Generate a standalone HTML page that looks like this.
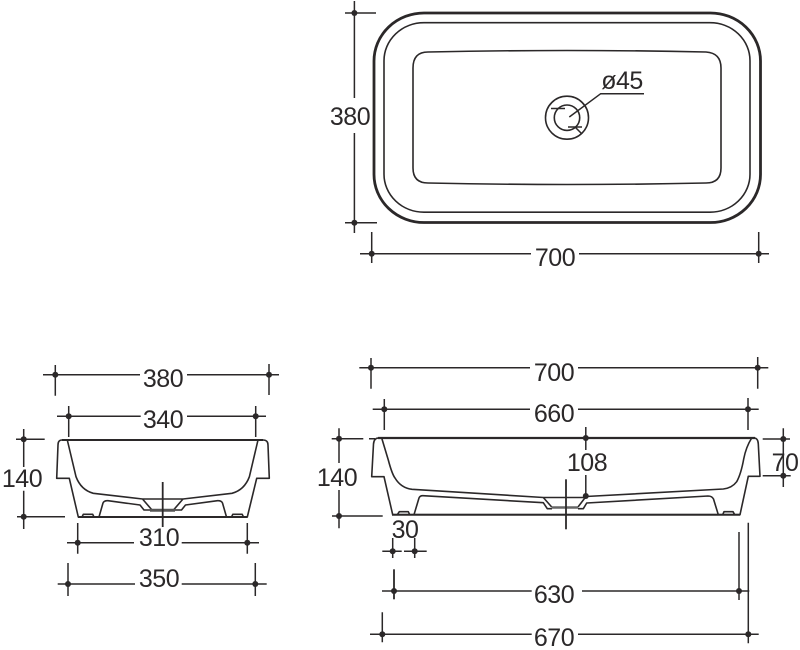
<!DOCTYPE html>
<html><head><meta charset="utf-8"><style>
html,body{margin:0;padding:0;background:#fff;width:800px;height:650px;overflow:hidden}
svg{display:block}
text{font-family:"Liberation Sans",sans-serif;font-size:25px;letter-spacing:-0.5px;fill:#2b2829;text-anchor:middle}
.d{stroke:#2b2829;stroke-width:1.5;fill:none}
.p{stroke:#2b2829;stroke-width:1.6;fill:none;stroke-linejoin:round}
circle.k{fill:#2b2829;stroke:none}
</style></head><body>
<svg width="800" height="650" viewBox="0 0 800 650" xmlns="http://www.w3.org/2000/svg">
<!-- top view -->
<rect x="374" y="13" width="386.5" height="209.5" rx="50" ry="48" fill="none" stroke="#2b2829" stroke-width="2.8"/>
<rect x="384" y="22.7" width="366" height="189.5" rx="40" ry="38" class="p"/>
<path class="p" d="M428 52 Q567 49 706 52 Q721 53 721 68 L721 168 Q721 183 706 183 Q567 186 428 183 Q413 183 413 168 L413 68 Q413 52 428 52Z"/>
<circle cx="567" cy="117.7" r="21.5" class="p"/>
<circle cx="567" cy="117.7" r="12.7" class="p"/>
<path class="d" d="M551 108.5H565M568 127H582M575 127L582 134M569.3 117L600.7 93.7H644"/>
<text x="622" y="89">ø45</text>
<path class="d" d="M354.4 1V98M354.4 133V233M345 13H376M345 222.7H377"/>
<circle class="k" cx="354.4" cy="13" r="3"/><circle class="k" cx="354.4" cy="222.7" r="3"/>
<text x="350" y="125">380</text>
<path class="d" d="M360 253.7H531M579 253.7H769M371.7 232V263M758.7 232V263"/>
<circle class="k" cx="371.7" cy="253.7" r="3"/><circle class="k" cx="758.7" cy="253.7" r="3"/>
<text x="555" y="266">700</text>

<!-- left side view -->
<path class="d" d="M43 374.7H140M187 374.7H279M55.3 365V395.7M269 364V395"/>
<circle class="k" cx="55.3" cy="374.7" r="3"/><circle class="k" cx="269" cy="374.7" r="3"/>
<text x="163" y="387">380</text>
<path class="d" d="M57 416.3H140.7M187 416.3H266M68.7 406V437M255.7 406V437"/>
<circle class="k" cx="68.7" cy="416.3" r="3"/><circle class="k" cx="255.7" cy="416.3" r="3"/>
<text x="163" y="428">340</text>
<path class="d" d="M23.7 429V467M23.7 490.7V529M16 439.3H44.7M17 516.7H65"/>
<circle class="k" cx="23.7" cy="439.3" r="3"/><circle class="k" cx="23.7" cy="516.7" r="3"/>
<text x="22" y="487">140</text>
<path class="d" d="M67 542.7H134M181.7 542.7H259M77.7 523V553.7M247.3 523V553.7"/>
<circle class="k" cx="77.7" cy="542.7" r="3"/><circle class="k" cx="247.3" cy="542.7" r="3"/>
<text x="159" y="546">310</text>
<path class="d" d="M57.7 584H135M181.7 584H266.7M68 563V596M255.3 563V596"/>
<circle class="k" cx="68" cy="584" r="3"/><circle class="k" cx="255.3" cy="584" r="3"/>
<text x="159" y="587">350</text>
<path d="M62 440H263" stroke="#2b2829" stroke-width="2" fill="none"/>
<path class="p" d="M67.3 440H62Q58 440 58 445L56.7 478.3H69.3L78.3 517H247.3L256.7 478.3H269.3L268 445Q268 440 263 440H258"/>
<path class="p" d="M67.3 440L76 476.7Q81 490 93.3 493.3L142.5 499L152 510M258 440L249.4 476.7Q244.4 490 232 493.3L183 499L173.5 510M142.5 499H183"/>
<path class="p" d="M99 517L103 503Q104 500.5 108 500.7L140 505L144 510H151M226.5 517L222.5 503Q221.5 500.5 217.5 500.7L185.5 505L181.5 510H174.5"/>
<path d="M150 510.3H175" stroke="#555" stroke-width="3"/>
<path class="p" d="M82 517L83.3 514.3H92.7L94 517M231.5 517L232.8 514.3H242.2L243.5 517"/>
<path d="M78 517H247.3" stroke="#2b2829" stroke-width="2"/>
<path d="M162.7 482V527" stroke="#2b2829" stroke-width="1.8"/>

<!-- right side view -->
<path class="d" d="M359.3 367.7H530M578 367.7H768.3M371 358V388.7M757.7 357V388.7"/>
<circle class="k" cx="371" cy="367.7" r="3"/><circle class="k" cx="757.7" cy="367.7" r="3"/>
<text x="554" y="381">700</text>
<path class="d" d="M372.7 409.3H530M578 409.3H758.7M384.3 399V430M748 398V430"/>
<circle class="k" cx="384.3" cy="409.3" r="3"/><circle class="k" cx="748" cy="409.3" r="3"/>
<text x="554" y="422">660</text>
<path d="M378 438H755" stroke="#2b2829" stroke-width="2.2" fill="none"/>
<path class="p" d="M378.5 438Q374 438 373.5 444L371.7 476.7H384L392.7 514.7H740L748.3 476.3H760L758.3 444Q758 438 754 438"/>
<path class="p" d="M381.7 438L388.3 460Q392 474 395 478Q401 488 412 489.3L543.3 497.5L551.7 507M751.7 438Q746 447 743.7 459Q741 474 736.7 481.7Q732 488 723.3 489L586 496.5L578 507M543.3 497.5H586"/>
<path class="p" d="M414 514.7L419 498Q420 495.5 423 495.7L543.3 502.7L547.3 508.7H552M578 508.7H583.3L586.7 503L708 496Q712 496 713.5 499L718.3 514.7"/>
<path d="M551.7 507.5H578" stroke="#666" stroke-width="2.6"/>
<path class="p" d="M397.3 514.7L399.3 511.7H408.3L409.7 514.7M722.7 514.7L724 511.7H733L734.7 514.7"/>
<path d="M392 514.7H740" stroke="#2b2829" stroke-width="2"/>
<path d="M566 479.3V529.3" stroke="#2b2829" stroke-width="1.8"/>
<path class="d" d="M339 428.3V463M339 490V528.3M331.7 438.7H363.3M369 438.7H375M332 516H382.7"/>
<circle class="k" cx="339" cy="438.7" r="3"/><circle class="k" cx="339" cy="516" r="3"/>
<text x="337" y="486">140</text>
<text x="405" y="538">30</text>
<path class="d" d="M392.7 538V558M414.7 538V558M382.3 551.3H401.7M404 551.3H426.7"/>
<circle class="k" cx="392.7" cy="551.3" r="3"/><circle class="k" cx="414.7" cy="551.3" r="3"/>
<path class="d" d="M382 591H531.7M582 591H749.3M739 532V600"/>
<path d="M394 569.3V599.3" stroke="#2b2829" stroke-width="1.8"/>
<circle class="k" cx="394" cy="591" r="3"/><circle class="k" cx="739" cy="591" r="3"/>
<text x="554" y="603">630</text>
<path class="d" d="M370 634.3H531.7M578 634.3H758.7M382.3 612.3V642.3M748.3 522.7V643.3"/>
<circle class="k" cx="382.3" cy="634.3" r="3"/><circle class="k" cx="748.3" cy="634.3" r="3"/>
<text x="554" y="646">670</text>
<path class="d" d="M585.8 427V450M585.8 475V497"/>
<circle class="k" cx="585.8" cy="438" r="3"/><circle class="k" cx="585.8" cy="496" r="3"/>
<text x="587" y="471">108</text>
<path class="d" d="M783.3 428.3V487M762.7 439H790M762.7 475.7H790.7"/>
<circle class="k" cx="783.3" cy="439" r="3"/><circle class="k" cx="783.3" cy="475.7" r="3"/>
<text x="785" y="471">70</text>
</svg>
</body></html>
